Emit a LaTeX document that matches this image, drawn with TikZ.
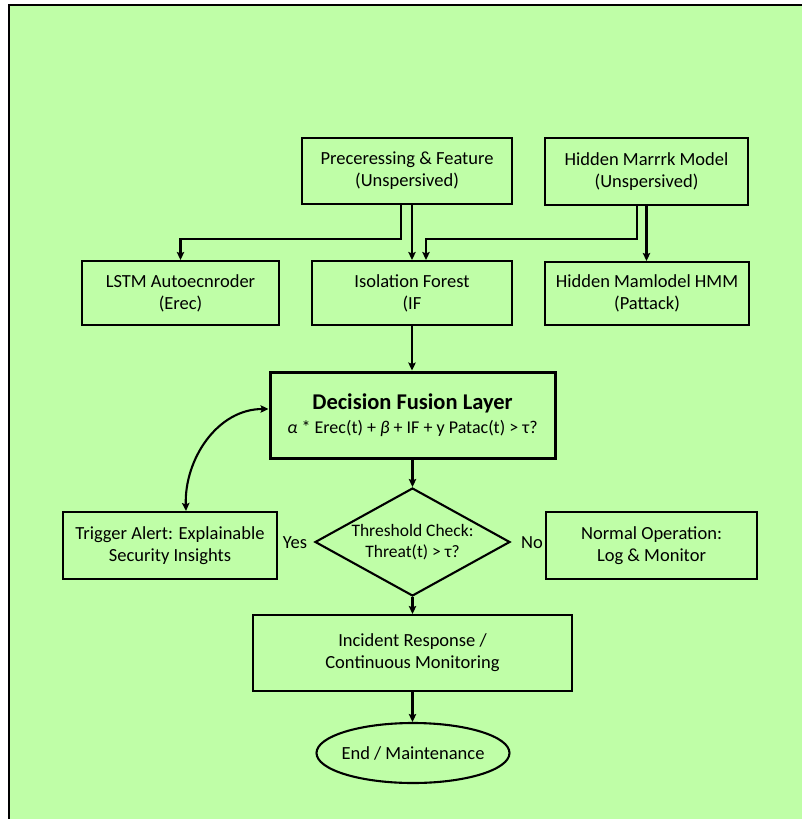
\documentclass[tikz,border=0pt]{standalone}
\usepackage{fontspec}
\setmainfont{Carlito}
\usetikzlibrary{arrows.meta,shapes.geometric}
\definecolor{bggreen}{RGB}{191,254,167}
\tikzset{
  box/.style={draw=black, line width=2.1pt, rectangle, align=center, inner sep=2pt, font=\fontsize{18.5}{22}\selectfont},
  bigbox/.style={box, line width=3pt},
  arr/.style={draw=black, line width=2.1pt, -{Stealth[length=8pt,width=7.5pt,inset=1.5pt]}},
  arrtwo/.style={draw=black, line width=2.1pt, {Stealth[length=8pt,width=7.5pt,inset=1.5pt]}-{Stealth[length=8pt,width=7.5pt,inset=1.5pt]}},
  dia/.style={draw=black, line width=2.1pt, diamond, inner sep=0pt},
  oval/.style={draw=black, line width=2.1pt, ellipse, inner sep=0pt},
  lbl/.style={font=\fontsize{18.5}{22}\selectfont, inner sep=0pt}
}
\begin{document}
\begin{tikzpicture}[x=1pt,y=-1pt]
\useasboundingbox (0,0) rectangle (802,819);
\fill[white] (0,0) rectangle (802,819);
\fill[bggreen] (9,5) rectangle (802,819);
\draw[black, line width=2.5pt] (9,819) -- (9,5) -- (802,5);

\node[box, minimum width=210, minimum height=66] (pre) at (407,171) {Preceressing \& Feature\\(Unspersived)};
\node[box, minimum width=203, minimum height=67] (hmmtop) at (646.5,171.5) {Hidden Marrrk Model\\(Unspersived)};
\node[box, minimum width=197, minimum height=64] (lstm) at (180.5,293) {LSTM Autoecnroder\\(Erec)};
\node[box, minimum width=200, minimum height=64] (iso) at (412,293) {Isolation Forest\\(IF};
\node[box, minimum width=204, minimum height=63] (hmm) at (647,293.5) {Hidden Mamlodel HMM\\(Pattack)};
\node[bigbox, minimum width=285, minimum height=86] (fus) at (412.5,415)
  {{\fontsize{22.5}{26}\selectfont\bfseries Decision Fusion Layer}\\[2pt]
   {\fontsize{18}{22}\selectfont\textit{α} * Erec(t) + \textit{β} + IF + y Patac(t) > τ?}};
\node[box, minimum width=214, minimum height=67] (trig) at (170,545.5) {Trigger Alert: Explainable\\Security Insights};
\node[dia, minimum width=195, minimum height=108] (thr) at (412.5,542) {};
\node[lbl, align=center, font=\fontsize{17.5}{21.5}\selectfont] (thrtext) at (412.5,542) {Threshold Check:\\Threat(t) > τ?};
\node[box, minimum width=211, minimum height=67] (norm) at (651.5,545.5) {Normal Operation:\\Log \& Monitor};
\node[box, minimum width=319, minimum height=76] (inc) at (412.5,653) {Incident Response /\\Continuous Monitoring};
\node[oval, minimum width=193, minimum height=60] (end) at (413,753) {};
\node[lbl] (endtext) at (413,753) {End / Maintenance};

\node[lbl] (yes) at (295,543) {Yes};
\node[lbl] (no) at (532,543) {No};

\draw[arr] ([xshift=-6pt]pre.south) -- ++(0,34) -| (lstm.north);
\draw[arr] ([xshift=5pt]pre.south) -- (iso.north);
\draw[arr] ([xshift=-9.5pt]hmmtop.south) -- ++(0,33) -| ([xshift=14pt]iso.north);
\draw[arr] (hmmtop.south) -- (hmmtop.south |- hmm.north);
\draw[arr] (iso.south) -- (iso.south |- fus.north);
\draw[arr] (fus.south) -- (fus.south |- thr.north);
\draw[arr] (thr.south) -- (thr.south |- inc.north);
\draw[arr] (inc.south) -- (inc.south |- end.north);
\draw[arrtwo] ([xshift=16pt]trig.north) to[out=92,in=180] ([yshift=6pt]fus.west);
\end{tikzpicture}
\end{document}
